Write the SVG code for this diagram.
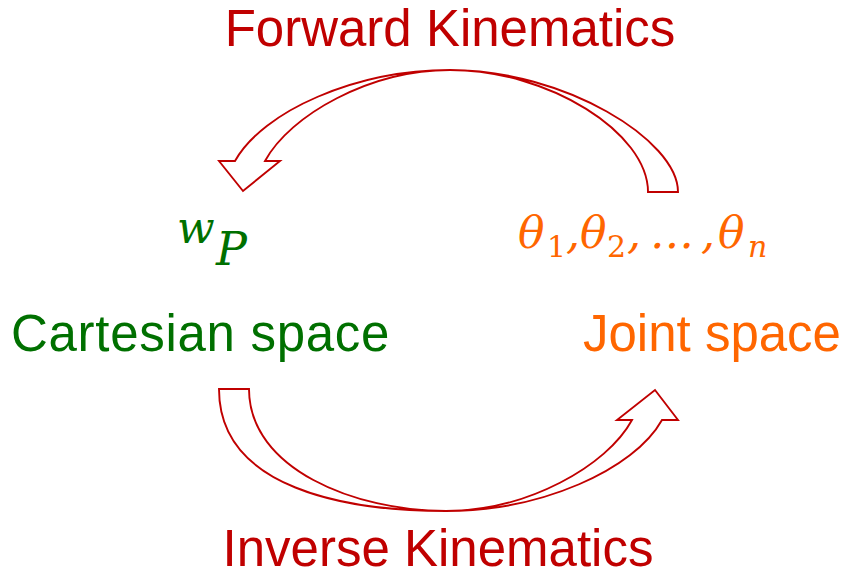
<svg xmlns="http://www.w3.org/2000/svg" width="843" height="578" viewBox="0 0 843 578">
  <style>
    .lbl { font-family: "Liberation Sans", Arial, sans-serif; font-size: 51px; }
    .red { fill: #C00000; }
    .green { fill: #007000; }
    .orange { fill: #FF6600; }
    .math { font-family: "DejaVu Serif", "Liberation Serif", serif; font-style: italic; }
    .sub { font-family: "DejaVu Serif", "Liberation Serif", serif; font-size: 30px; }
    .arrow { fill: #FFFFFF; stroke: #C00000; stroke-width: 1.9; stroke-linejoin: miter; }
  </style>
  <rect width="843" height="578" fill="#FFFFFF"/>
  <g id="connectors">
    <path id="fk-arrow" class="arrow" d="M 678,192 L 648,192 C 648,133 549,70 450,70 C 370,70 290,115 265,161 L 280,161 L 243,191 L 219,161 L 235,161 C 263,111 356,70 450,70 C 564,70 678,140 678,192 Z"/>
    <path id="ik-arrow" class="arrow" d="M 219,389 L 249,389 C 249,469 355,511 446,511 C 527,511 607,466 632,420 L 617,420 L 655,390 L 678,420 L 662,420 C 634,470 541,511 446,511 C 347,511 219,489 219,389 Z"/>
  </g>
  <g id="label-forward">
    <text class="lbl red" x="450" y="46" text-anchor="middle">Forward Kinematics</text>
  </g>
  <g id="label-inverse">
    <text class="lbl red" x="438" y="566" text-anchor="middle">Inverse Kinematics</text>
  </g>
  <g id="cartesian">
    <text class="math green" font-size="44" x="177" y="243">w</text>
    <text class="math green" font-size="46" x="216" y="265">P</text>
    <text class="lbl green" x="11" y="351" font-size="52.5" letter-spacing="0.7">Cartesian space</text>
  </g>
  <g id="joint">
    <text class="math orange" font-size="44" x="518" y="248">θ</text>
    <text class="sub orange" x="547" y="257">1</text>
    <text class="math orange" font-size="44" x="566" y="248">,</text>
    <text class="math orange" font-size="44" x="580" y="248">θ</text>
    <text class="sub orange" x="607" y="257">2</text>
    <text class="math orange" font-size="44" x="627" y="248">,</text>
    <text class="math orange" font-size="44" x="650" y="248">…</text>
    <text class="math orange" font-size="44" x="701" y="248">,</text>
    <text class="math orange" font-size="44" x="718" y="248">θ</text>
    <text class="math orange" font-size="30" x="748" y="257">n</text>
    <text class="lbl orange" x="583" y="351">Joint space</text>
  </g>
</svg>
